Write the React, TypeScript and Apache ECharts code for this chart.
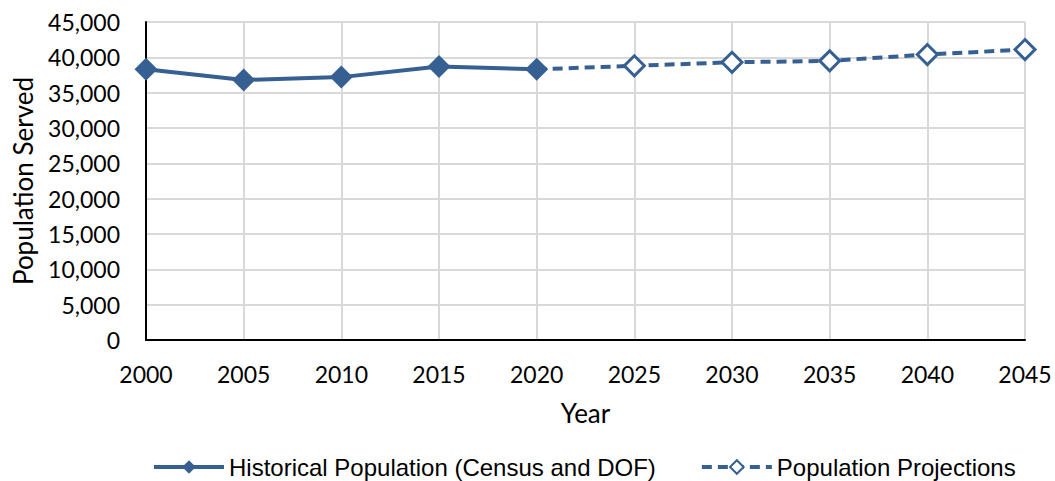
import React, { useEffect, useRef } from "react";
import * as echarts from "echarts";

const years = ["2000", "2005", "2010", "2015", "2020", "2025", "2030", "2035", "2040", "2045"];
const historical = [38300, 36800, 37200, 38700, 38300, null, null, null, null, null];
const projections = [null, null, null, null, 38300, 38800, 39300, 39500, 40400, 41100];
const seriesNames = ["Historical Population (Census and DOF)", "Population Projections"];

const COLOR = "#376092";
const AXIS_FONT = "Lato, 'Open Sans', sans-serif";
const LEGEND_FONT = "'Liberation Sans', Arial, sans-serif";

export default function App() {
  const ref = useRef<HTMLDivElement>(null);
  useEffect(() => {
    if (!ref.current) return;
    const chart = echarts.init(ref.current, null, { renderer: "svg" });
    chart.setOption({
      animation: false,
      backgroundColor: "#ffffff",
      grid: { left: 146, right: 30, top: 22, bottom: 141, containLabel: false },
      xAxis: {
        type: "category",
        data: years,
        boundaryGap: false,
        name: "Year",
        nameLocation: "middle",
        nameGap: 60,
        nameTextStyle: { fontFamily: AXIS_FONT, fontSize: 26, color: "#000" },
        axisLine: { show: true, lineStyle: { color: "#000", width: 2 } },
        axisTick: { show: false },
        axisLabel: { fontFamily: AXIS_FONT, fontSize: 23, color: "#000", margin: 22 },
        splitLine: { show: true, lineStyle: { color: "#d9d9d9", width: 2 } },
      },
      yAxis: {
        type: "value",
        min: 0,
        max: 45000,
        interval: 5000,
        name: "Population Served",
        nameLocation: "middle",
        nameGap: 110,
        nameTextStyle: { fontFamily: AXIS_FONT, fontSize: 26, color: "#000" },
        axisLine: { show: true, lineStyle: { color: "#000", width: 2 } },
        axisTick: { show: false },
        axisLabel: {
          fontFamily: AXIS_FONT,
          fontSize: 23,
          color: "#000",
          margin: 26,
          formatter: (v: number) => v.toLocaleString("en-US"),
        },
        splitLine: { show: true, lineStyle: { color: "#d9d9d9", width: 2 } },
      },
      legend: {
        top: 450,
        left: 147,
        itemWidth: 70,
        itemHeight: 17,
        itemGap: 44,
        textStyle: { fontFamily: LEGEND_FONT, fontSize: 24, color: "#000" },
        lineStyle: { width: 4 },
        data: seriesNames,
      },
      series: [
        {
          name: seriesNames[0],
          type: "line",
          data: historical,
          connectNulls: false,
          symbol: "diamond",
          symbolSize: 23,
          lineStyle: { color: COLOR, width: 4 },
          itemStyle: { color: COLOR },
          z: 3,
        },
        {
          name: seriesNames[1],
          type: "line",
          data: projections.map((v, i) =>
            i === 4 ? { value: v, symbol: "none" } : v
          ),
          connectNulls: false,
          symbol: "diamond",
          symbolSize: 20,
          showAllSymbol: true,
          lineStyle: { color: COLOR, width: 4, type: [10, 6] },
          itemStyle: { color: "#ffffff", borderColor: COLOR, borderWidth: 3 },
          z: 2,
        },
      ],
    });
    return () => chart.dispose();
  }, []);
  return <div ref={ref} style={{ width: 1055, height: 481, position: "absolute", left: 0, top: 0 }} />;
}
